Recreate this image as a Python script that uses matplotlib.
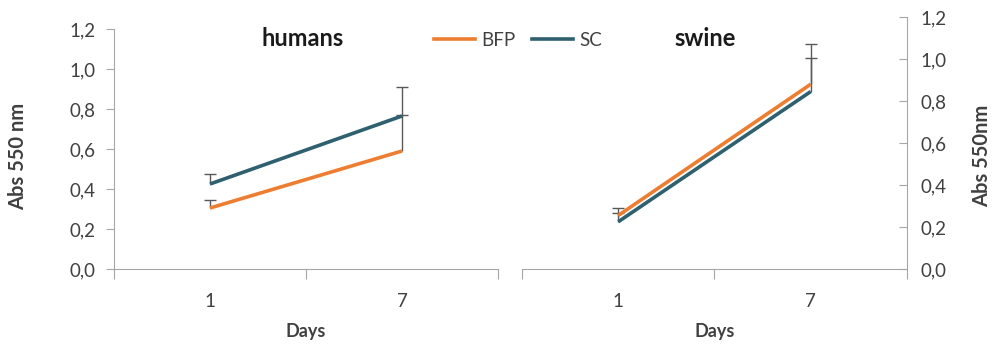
import numpy as np
import matplotlib
matplotlib.use("Agg")
import matplotlib.pyplot as plt
from matplotlib.lines import Line2D

plt.rcParams['font.family'] = ['Lato', 'DejaVu Sans']

days = ["1", "7"]
yticks = [0.0, 0.2, 0.4, 0.6, 0.8, 1.0, 1.2]
ytick_labels = ["0,0", "0,2", "0,4", "0,6", "0,8", "1,0", "1,2"]

humans_bfp = [0.305, 0.59]
humans_bfp_err = [0.04, 0.18]
humans_sc = [0.425, 0.765]
humans_sc_err = [0.05, 0.145]

swine_bfp = [0.255, 0.88]
swine_bfp_err = [0.035, 0.19]
swine_sc = [0.225, 0.845]
swine_sc_err = [0.04, 0.16]

orange = "#ED7D31"
teal = "#2E6070"
grey = "#A6A6A6"
txt = "#404040"
errc = "#595959"

fig = plt.figure(figsize=(9.95, 3.49), dpi=100)
ax1 = fig.add_axes([114/995, 80/349, 384/995, 240/349])
ax2 = fig.add_axes([522/995, 80/349, 385/995, 252/349])

x = np.arange(len(days))


def panel(ax, bfp, bfp_err, sc, sc_err, side):
    # upper-only error bars: stem + cap at top
    for vals, err in [(bfp, bfp_err), (sc, sc_err)]:
        top = np.array(vals) + np.array(err)
        ax.vlines(x, vals, top, color=errc, lw=1, zorder=2)
        ax.plot(x, top, ls='none', marker='_', ms=9, mew=1, color=errc, zorder=2)
    for vals, col in [(bfp, orange), (sc, teal)]:
        ax.plot(x, vals, color=col, lw=2.6, solid_capstyle='butt', zorder=3)
    ax.set_xlim(-0.5, 1.5)
    ax.set_ylim(0, 1.2)
    ax.set_xticks([-0.5, 0.5, 1.5])
    ax.set_xticklabels([])
    ax.set_xticks(x, minor=True)
    ax.set_xticklabels(days, minor=True)
    ax.tick_params(axis='x', which='major', length=7, color=grey, direction='out')
    ax.tick_params(axis='x', which='minor', length=0, pad=17, labelsize=13.5, labelcolor=txt)
    ax.set_yticks(yticks)
    ax.set_yticklabels(ytick_labels)
    ax.tick_params(axis='y', length=6, color=grey, labelsize=13.5, labelcolor=txt,
                   direction='out' if side == 'left' else 'in', pad=7 if side == 'left' else 10)
    for s in ax.spines.values():
        s.set_visible(False)
    ax.spines['bottom'].set_visible(True)
    ax.spines['bottom'].set_color(grey)
    ax.spines[side].set_visible(True)
    ax.spines[side].set_color(grey)
    if side == 'right':
        ax.yaxis.tick_right()
    ax.set_xlabel("Days", fontsize=13, fontweight='bold', color=txt, labelpad=10)
    ax.set_facecolor('none')


panel(ax1, humans_bfp, humans_bfp_err, humans_sc, humans_sc_err, 'left')
panel(ax2, swine_bfp, swine_bfp_err, swine_sc, swine_sc_err, 'right')

fig.text(18/995, 1 - 156/349, "Abs 550 nm", rotation=90, ha='center', va='center',
         fontsize=14.5, fontweight='bold', color=txt)
fig.text(982/995, 1 - 156/349, "Abs 550nm", rotation=90, ha='center', va='center',
         fontsize=14.5, fontweight='bold', color=txt)
fig.text(303/995, 1 - 38/349, "humans", ha='center', va='center',
         fontsize=17, fontweight='bold', color="#1a1a1a")
fig.text(705/995, 1 - 38/349, "swine", ha='center', va='center',
         fontsize=17, fontweight='bold', color="#1a1a1a")

handles = [Line2D([], [], color=orange, lw=2.6), Line2D([], [], color=teal, lw=2.6)]
fig.legend(handles, ["BFP", "SC"], loc='center', bbox_to_anchor=(518/995, 1 - 40/349),
           ncol=2, frameon=False, fontsize=13.5, handlelength=2.2, handletextpad=0.3,
           columnspacing=0.9, labelcolor=txt)

fig.savefig("out.png", dpi=100)
